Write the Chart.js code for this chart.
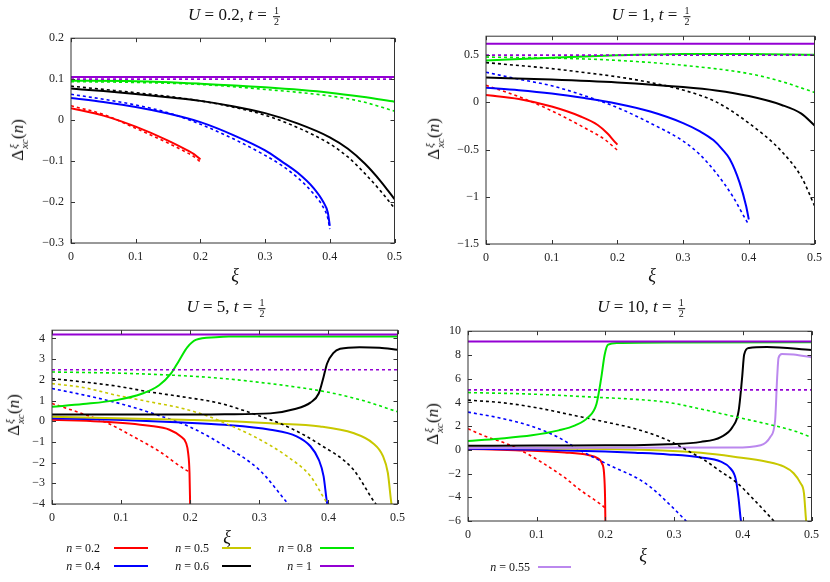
<!DOCTYPE html>
<html><head><meta charset="utf-8">
<script src="https://cdn.jsdelivr.net/npm/chart.js@4.4.0/dist/chart.umd.min.js"></script>
<style>
body{margin:0;background:#fff;width:830px;height:582px;position:relative;overflow:hidden;font-family:"Liberation Serif","DejaVu Serif",serif;color:#111}
.box{position:absolute}
.t{position:absolute;transform:translate(-50%,-50%);white-space:nowrap;font-size:17px}
.frac{display:inline-block;vertical-align:middle;text-align:center;font-size:10px;line-height:10px;margin-left:2px}
.frac span{display:block;padding:0 1px}
.frac span:first-child{border-bottom:0.8px solid #111}
.yl{position:absolute;transform:translate(-50%,-50%) rotate(-90deg);white-space:nowrap;font-size:17px}
.ss{display:inline-flex;flex-direction:column;vertical-align:middle;font-size:11px;line-height:11px;font-style:italic;margin-left:1px}
.xl{position:absolute;transform:translate(-50%,-50%);font-size:18px;font-style:italic}
.lg{position:absolute;font-size:12px;white-space:nowrap;transform:translateY(-50%)}
.ln{position:absolute;height:2px;transform:translateY(-50%)}
</style></head>
<body>
<script>
// ---------- tick values ----------
const xiTicks = [0, 0.1, 0.2, 0.3, 0.4, 0.5];
const yTicksU02 = [-0.3, -0.2, -0.1, 0, 0.1, 0.2];
const yTicksU1 = [-1.5, -1, -0.5, 0, 0.5];
const yTicksU5 = [-4, -3, -2, -1, 0, 1, 2, 3, 4];
const yTicksU10 = [-6, -4, -2, 0, 2, 4, 6, 8, 10];

// ---------- U = 0.2 ----------
const U02_n1_solid = [[0,0.105],[0.5,0.105]];
const U02_n1_dashed = [[0,0.1],[0.5,0.1]];
const U02_n08_solid = [[0,0.096],[0.1,0.095],[0.2,0.089],[0.3,0.080],[0.4,0.067],[0.45,0.057],[0.5,0.045]];
const U02_n08_dashed = [[0,0.094],[0.1,0.092],[0.2,0.087],[0.3,0.075],[0.4,0.059],[0.45,0.045],[0.5,0.022]];
const U02_n06_solid = [[0,0.077],[0.05,0.071],[0.1,0.064],[0.15,0.056],[0.2,0.047],[0.25,0.034],[0.3,0.017],[0.35,-0.008],[0.4,-0.042],[0.428,-0.07],[0.454,-0.106],[0.479,-0.15],[0.5,-0.193]];
const U02_n06_dashed = [[0,0.083],[0.05,0.075],[0.1,0.067],[0.15,0.058],[0.2,0.047],[0.25,0.032],[0.3,0.012],[0.35,-0.018],[0.4,-0.058],[0.428,-0.09],[0.454,-0.13],[0.479,-0.174],[0.5,-0.215]];
const U02_n04_solid = [[0,0.054],[0.05,0.044],[0.1,0.032],[0.15,0.016],[0.2,-0.005],[0.25,-0.036],[0.3,-0.074],[0.325,-0.1],[0.35,-0.128],[0.375,-0.166],[0.39,-0.2],[0.397,-0.226],[0.4,-0.258]];
const U02_n04_dashed = [[0,0.063],[0.05,0.051],[0.1,0.037],[0.15,0.018],[0.2,-0.01],[0.25,-0.045],[0.3,-0.086],[0.325,-0.11],[0.35,-0.14],[0.375,-0.18],[0.39,-0.213],[0.397,-0.24],[0.4,-0.266]];
const U02_n02_solid = [[0,0.029],[0.05,0.011],[0.1,-0.016],[0.15,-0.05],[0.18,-0.074],[0.19,-0.083],[0.2,-0.096]];
const U02_n02_dashed = [[0,0.035],[0.05,0.014],[0.1,-0.02],[0.15,-0.056],[0.18,-0.08],[0.19,-0.089],[0.2,-0.102]];

// ---------- U = 1 ----------
const U1_n1_solid = [[0,0.62],[0.5,0.62]];
const U1_n1_dashed = [[0,0.5],[0.5,0.5]];
const U1_n08_solid = [[0,0.444],[0.1,0.472],[0.2,0.497],[0.3,0.512],[0.4,0.512],[0.5,0.503]];
const U1_n08_dashed = [[0,0.479],[0.1,0.469],[0.2,0.444],[0.3,0.392],[0.4,0.304],[0.45,0.22],[0.5,0.105]];
const U1_n06_solid = [[0,0.262],[0.1,0.241],[0.2,0.21],[0.3,0.161],[0.35,0.125],[0.4,0.066],[0.45,-0.028],[0.48,-0.12],[0.5,-0.245]];
const U1_n06_dashed = [[0,0.42],[0.05,0.39],[0.1,0.357],[0.15,0.315],[0.2,0.27],[0.25,0.21],[0.3,0.13],[0.35,0.005],[0.4,-0.22],[0.45,-0.52],[0.48,-0.79],[0.5,-1.094]];
const U1_n04_solid = [[0,0.154],[0.05,0.129],[0.1,0.094],[0.15,0.045],[0.2,-0.015],[0.25,-0.098],[0.3,-0.22],[0.325,-0.305],[0.346,-0.4],[0.36,-0.5],[0.371,-0.6],[0.386,-0.85],[0.396,-1.1],[0.4,-1.24]];
const U1_n04_dashed = [[0,0.318],[0.05,0.245],[0.1,0.175],[0.15,0.07],[0.2,-0.056],[0.25,-0.22],[0.3,-0.41],[0.325,-0.55],[0.35,-0.745],[0.376,-1.0],[0.396,-1.25],[0.4,-1.294]];
const U1_n02_solid = [[0,0.077],[0.05,0.035],[0.1,-0.045],[0.144,-0.15],[0.17,-0.24],[0.185,-0.33],[0.195,-0.41],[0.2,-0.448]];
const U1_n02_dashed = [[0,0.18],[0.05,0.06],[0.1,-0.09],[0.15,-0.27],[0.18,-0.39],[0.2,-0.507]];

// ---------- U = 5 ----------
const U5_n1_solid = [[0,4.19],[0.5,4.19]];
const U5_n1_dashed = [[0,2.49],[0.5,2.49]];
const U5_n08_solid = [[0,0.70],[0.045,0.83],[0.093,1.02],[0.131,1.34],[0.155,1.74],[0.172,2.3],[0.184,2.94],[0.196,3.58],[0.208,3.93],[0.237,4.06],[0.256,4.09],[0.35,4.1],[0.5,4.1]];
const U5_n08_dashed = [[0,2.38],[0.1,2.32],[0.2,2.18],[0.25,2.06],[0.3,1.88],[0.35,1.67],[0.4,1.4],[0.45,1.0],[0.5,0.46]];
const U5_n06_solid = [[0,0.33],[0.1,0.32],[0.2,0.32],[0.25,0.34],[0.316,0.38],[0.35,0.58],[0.374,0.9],[0.386,1.34],[0.393,2.14],[0.398,2.78],[0.407,3.29],[0.417,3.5],[0.445,3.58],[0.474,3.55],[0.5,3.45]];
const U5_n06_dashed = [[0,2.06],[0.045,1.9],[0.093,1.7],[0.141,1.42],[0.189,1.18],[0.244,0.86],[0.292,0.35],[0.34,-0.25],[0.388,-1.13],[0.436,-2.33],[0.467,-3.93],[0.47,-4.05]];
const U5_n05_solid = [[0,0.22],[0.093,0.15],[0.189,0.07],[0.244,0.02],[0.316,-0.1],[0.388,-0.25],[0.436,-0.57],[0.464,-1.05],[0.479,-1.69],[0.486,-2.49],[0.491,-3.93],[0.492,-4.1]];
const U5_n05_dashed = [[0,1.82],[0.045,1.63],[0.093,1.26],[0.141,0.94],[0.189,0.62],[0.227,0.23],[0.251,-0.1],[0.292,-0.73],[0.34,-1.69],[0.374,-2.65],[0.398,-3.93],[0.4,-4.0]];
const U5_n04_solid = [[0,0.14],[0.093,0.07],[0.189,-0.06],[0.25,-0.17],[0.316,-0.41],[0.354,-0.73],[0.374,-1.21],[0.386,-1.85],[0.393,-2.65],[0.398,-3.93],[0.4,-4.2]];
const U5_n04_dashed = [[0,1.58],[0.05,1.24],[0.1,0.84],[0.15,0.33],[0.2,-0.28],[0.25,-1.2],[0.3,-2.35],[0.343,-4.05]];
const U5_n02_solid = [[0,0.07],[0.069,-0.01],[0.141,-0.22],[0.17,-0.41],[0.186,-0.73],[0.194,-1.05],[0.197,-1.53],[0.199,-2.5],[0.2,-4.2]];
const U5_n02_dashed = [[0,0.86],[0.045,0.35],[0.083,-0.13],[0.117,-0.73],[0.155,-1.45],[0.194,-2.36],[0.2,-2.45]];

// ---------- U = 10 ----------
const U10_n1_solid = [[0,9.14],[0.5,9.14]];
const U10_n1_dashed = [[0,5.05],[0.5,5.05]];
const U10_n08_solid = [[0,0.75],[0.045,0.94],[0.093,1.22],[0.132,1.64],[0.156,2.06],[0.175,2.75],[0.187,3.86],[0.194,6.08],[0.199,8.03],[0.204,8.86],[0.218,9.0],[0.3,9.05],[0.5,9.06]];
const U10_n08_dashed = [[0,4.83],[0.1,4.68],[0.19,4.42],[0.245,4.25],[0.291,4.0],[0.339,3.44],[0.387,2.81],[0.445,2.05],[0.475,1.6],[0.5,1.05]];
const U10_n06_solid = [[0,0.35],[0.1,0.36],[0.2,0.38],[0.243,0.39],[0.291,0.47],[0.339,0.67],[0.368,1.08],[0.385,1.92],[0.394,3.31],[0.399,6.08],[0.402,8.03],[0.409,8.58],[0.435,8.67],[0.5,8.42]];
const U10_n06_dashed = [[0,4.19],[0.05,3.97],[0.1,3.55],[0.15,2.95],[0.2,2.35],[0.245,1.75],[0.291,0.81],[0.32,-0.08],[0.344,-0.86],[0.368,-1.83],[0.392,-2.81],[0.416,-4.19],[0.443,-5.86],[0.446,-6.05]];
const U10_n055_solid = [[0,0.15],[0.2,0.17],[0.387,0.19],[0.426,0.39],[0.44,1.08],[0.447,2.47],[0.45,6.08],[0.452,7.75],[0.457,8.08],[0.474,8.03],[0.5,7.8]];
const U10_n05_solid = [[0,0.17],[0.1,0.13],[0.2,0.07],[0.291,-0.08],[0.339,-0.25],[0.387,-0.58],[0.435,-1.0],[0.46,-1.42],[0.474,-1.97],[0.484,-2.81],[0.489,-3.64],[0.492,-5.86],[0.4925,-6.1]];
const U10_n04_solid = [[0,0.1],[0.1,0.0],[0.2,-0.15],[0.243,-0.25],[0.291,-0.39],[0.339,-0.64],[0.368,-1.0],[0.382,-1.56],[0.39,-2.53],[0.394,-4.19],[0.397,-5.86],[0.398,-6.1]];
const U10_n04_dashed = [[0,3.18],[0.045,2.7],[0.092,2.0],[0.13,1.1],[0.162,0],[0.19,-0.85],[0.217,-1.6],[0.245,-2.35],[0.267,-3.2],[0.291,-4.47],[0.315,-5.86],[0.318,-6.05]];
const U10_n02_solid = [[0,0.08],[0.069,-0.03],[0.141,-0.22],[0.175,-0.44],[0.189,-0.72],[0.195,-1.14],[0.198,-1.97],[0.1995,-4],[0.2,-6.2]];
const U10_n02_dashed = [[0,1.78],[0.024,1.17],[0.058,0.47],[0.087,-0.36],[0.111,-1.19],[0.14,-2.31],[0.164,-3.42],[0.193,-4.58],[0.2,-4.92]];

// ---------- styles ----------
const COLORS = {'0.2':'#ff0000','0.4':'#0000ff','0.5':'#c8c800','0.55':'#bb88ee','0.6':'#000000','0.8':'#00e600','1':'#9400d3'};
const FONT = '"Liberation Serif","DejaVu Serif",serif';

const panels = [
  {U:'0.2', box:{L:71,T:36,R:397,B:243}, yMin:-0.3, yMax:0.2, yTicks:yTicksU02,
   title:{x:234,y:16}, ylab:{x:19,y:140}, xlab:{x:235,y:275},
   series:[['1',U02_n1_solid,U02_n1_dashed],['0.8',U02_n08_solid,U02_n08_dashed],['0.6',U02_n06_solid,U02_n06_dashed],['0.4',U02_n04_solid,U02_n04_dashed],['0.2',U02_n02_solid,U02_n02_dashed]]},
  {U:'1', box:{L:486,T:34,R:817,B:244}, yMin:-1.5, yMax:0.7, yTicks:yTicksU1,
   title:{x:651,y:16}, ylab:{x:435,y:139}, xlab:{x:652,y:275},
   series:[['1',U1_n1_solid,U1_n1_dashed],['0.8',U1_n08_solid,U1_n08_dashed],['0.6',U1_n06_solid,U1_n06_dashed],['0.4',U1_n04_solid,U1_n04_dashed],['0.2',U1_n02_solid,U1_n02_dashed]]},
  {U:'5', box:{L:52,T:328,R:400,B:504}, yMin:-4, yMax:4.4, yTicks:yTicksU5,
   title:{x:226,y:308}, ylab:{x:15,y:415}, xlab:{x:227,y:537},
   series:[['1',U5_n1_solid,U5_n1_dashed],['0.8',U5_n08_solid,U5_n08_dashed],['0.6',U5_n06_solid,U5_n06_dashed],['0.5',U5_n05_solid,U5_n05_dashed],['0.4',U5_n04_solid,U5_n04_dashed],['0.2',U5_n02_solid,U5_n02_dashed]]},
  {U:'10', box:{L:468,T:329,R:814,B:521}, yMin:-6, yMax:10, yTicks:yTicksU10,
   title:{x:641,y:308}, ylab:{x:434,y:424}, xlab:{x:643,y:555},
   series:[['1',U10_n1_solid,U10_n1_dashed],['0.8',U10_n08_solid,U10_n08_dashed],['0.6',U10_n06_solid,U10_n06_dashed],['0.55',U10_n055_solid,null],['0.5',U10_n05_solid,null],['0.4',U10_n04_solid,U10_n04_dashed],['0.2',U10_n02_solid,U10_n02_dashed]]}
];

function fmt(v){ const r = Math.round(v*1000)/1000; return (r<0?'\u2212':'') + Math.abs(r); }

const frame = {
  id:'frame',
  afterDatasetsDraw(chart){
    const {ctx, chartArea:a, scales} = chart;
    ctx.save();
    ctx.strokeStyle = '#333'; ctx.lineWidth = 1; ctx.setLineDash([]);
    ctx.strokeRect(a.left, a.top, a.right-a.left, a.bottom-a.top);
    ctx.beginPath();
    scales.x.ticks.forEach(t => { const p = Math.round(scales.x.getPixelForValue(t.value))+0.5;
      ctx.moveTo(p,a.bottom); ctx.lineTo(p,a.bottom-4); ctx.moveTo(p,a.top); ctx.lineTo(p,a.top+4); });
    scales.y.ticks.forEach(t => { const p = Math.round(scales.y.getPixelForValue(t.value))+0.5;
      ctx.moveTo(a.left,p); ctx.lineTo(a.left+4,p); ctx.moveTo(a.right,p); ctx.lineTo(a.right-4,p); });
    ctx.stroke();
    ctx.restore();
  }
};

const padL = 46, padT = 12, padR = 12, padB = 24;

function addHTML(cls, x, y, html){
  const d = document.createElement('div'); d.className = cls;
  d.style.left = x+'px'; d.style.top = y+'px'; d.innerHTML = html;
  document.body.appendChild(d); return d;
}

panels.forEach(p => {
  const b = p.box;
  const w = b.R - b.L + padL + padR, h = b.B - b.T + padT + padB;
  const box = document.createElement('div'); box.className = 'box';
  box.style.left = (b.L - padL)+'px'; box.style.top = (b.T - padT)+'px';
  box.style.width = w+'px'; box.style.height = h+'px';
  const cv = document.createElement('canvas'); cv.width = w; cv.height = h;
  box.appendChild(cv); document.body.appendChild(box);

  const datasets = [];
  p.series.forEach(([n, solid, dashed]) => {
    datasets.push({data: solid.map(q=>({x:q[0],y:q[1]})), borderColor: COLORS[n], borderWidth: 2,
      pointRadius:0, fill:false, cubicInterpolationMode:'monotone'});
    if (dashed) datasets.push({data: dashed.map(q=>({x:q[0],y:q[1]})), borderColor: COLORS[n], borderWidth: 1.6,
      borderDash:[3,3], pointRadius:0, fill:false, cubicInterpolationMode:'monotone'});
  });

  const tickFont = {family: FONT, size: 12};
  new Chart(cv, {
    type:'line',
    data:{datasets},
    options:{
      responsive:false, animation:false,
      layout:{padding:{top:padT, right:padR, left:0, bottom:0}},
      plugins:{legend:{display:false}, tooltip:{enabled:false}},
      scales:{
        x:{type:'linear', min:0, max:0.5,
          afterBuildTicks: sc => { sc.ticks = xiTicks.map(v=>({value:v})); },
          afterFit: sc => { sc.height = padB; },
          grid:{display:false, drawTicks:false}, border:{display:false},
          ticks:{padding:7, font:tickFont, color:'#222', maxRotation:0, autoSkip:false, callback:v=>fmt(v)}},
        y:{type:'linear', min:p.yMin, max:p.yMax,
          afterBuildTicks: sc => { sc.ticks = p.yTicks.map(v=>({value:v})); },
          afterFit: sc => { sc.width = padL; },
          grid:{display:false, drawTicks:false}, border:{display:false},
          ticks:{padding:7, font:tickFont, color:'#222', autoSkip:false, callback:v=>fmt(v)}}
      }
    },
    plugins:[frame]
  });

  addHTML('t', p.title.x, p.title.y, '<i>U</i> = '+p.U+', <i>t</i> = <span class="frac"><span>1</span><span>2</span></span>');
  addHTML('yl', p.ylab.x, p.ylab.y, 'Δ<span class="ss"><span>ξ</span><span>xc</span></span>(<i>n</i>)');
  addHTML('xl', p.xlab.x, p.xlab.y, 'ξ');
});

// ---------- legend ----------
const legendItems = [
  {n:'0.2', textRight:100, x1:114, x2:148, y:548},
  {n:'0.5', textRight:209, x1:222, x2:251, y:548},
  {n:'0.8', textRight:312, x1:320, x2:354, y:548},
  {n:'0.4', textRight:100, x1:114, x2:148, y:566},
  {n:'0.6', textRight:209, x1:222, x2:251, y:566},
  {n:'1',   textRight:312, x1:320, x2:354, y:566},
  {n:'0.55', textRight:530, x1:538, x2:571, y:567}
];
legendItems.forEach(it => {
  const d = document.createElement('div'); d.className = 'lg';
  d.style.right = (830 - it.textRight)+'px'; d.style.top = it.y+'px';
  d.innerHTML = '<i>n</i> = ' + it.n;
  document.body.appendChild(d);
  const l = document.createElement('div'); l.className = 'ln';
  l.style.left = it.x1+'px'; l.style.width = (it.x2-it.x1)+'px'; l.style.top = it.y+'px';
  l.style.background = COLORS[it.n];
  document.body.appendChild(l);
});
</script>
</body></html>
